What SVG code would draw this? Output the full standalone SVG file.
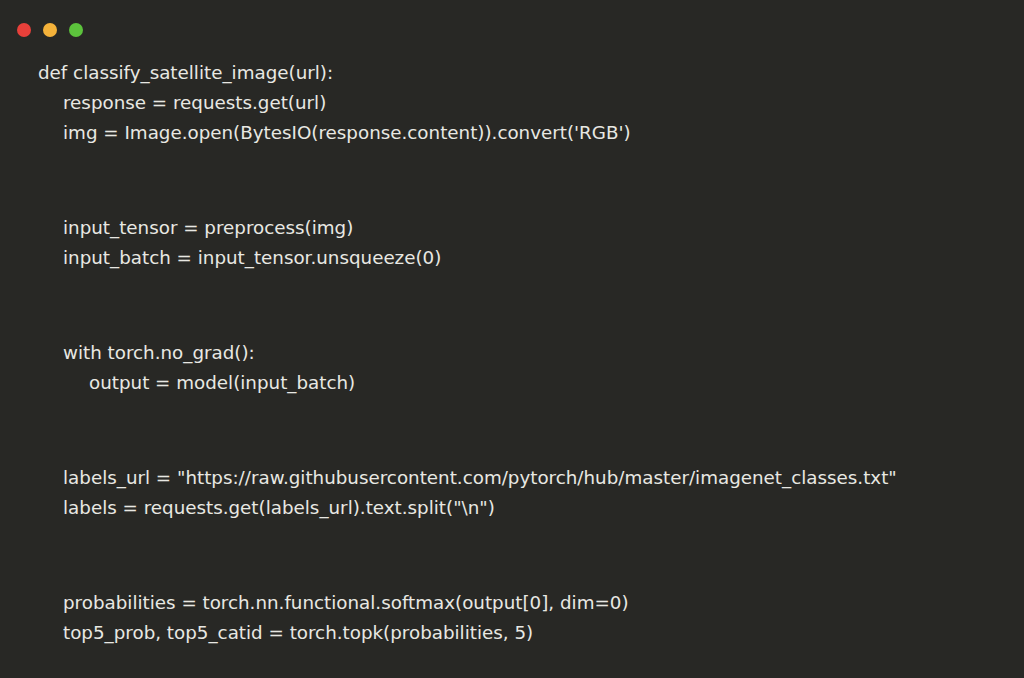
<svg xmlns="http://www.w3.org/2000/svg" width="1024" height="678" viewBox="0 0 1024 678">
<style>
.code{font-family:"DejaVu Sans","Liberation Sans",sans-serif;font-size:18.3px;fill:#e8e8e3;white-space:pre}
</style>
<rect width="1024" height="678" fill="#282825"/>
<g id="window-buttons">
<circle cx="24" cy="30" r="7" fill="#e8403a"/>
<circle cx="50" cy="30" r="7" fill="#f4b23a"/>
<circle cx="76" cy="30" r="7" fill="#5cc33c"/>
</g>
<g id="code">
<text class="code" x="38" y="79">def classify_satellite_image(url):</text>
<text class="code" x="63" y="109">response = requests.get(url)</text>
<text class="code" x="63" y="139">img = Image.open(BytesIO(response.content)).convert('RGB')</text>
<text class="code" x="63" y="234">input_tensor = preprocess(img)</text>
<text class="code" x="63" y="264">input_batch = input_tensor.unsqueeze(0)</text>
<text class="code" x="63" y="359">with torch.no_grad():</text>
<text class="code" x="89" y="389">output = model(input_batch)</text>
<text class="code" x="63" y="484">labels_url = "https://raw.githubusercontent.com/pytorch/hub/master/imagenet_classes.txt"</text>
<text class="code" x="63" y="514">labels = requests.get(labels_url).text.split("\n")</text>
<text class="code" x="63" y="609">probabilities = torch.nn.functional.softmax(output[0], dim=0)</text>
<text class="code" x="63" y="639">top5_prob, top5_catid = torch.topk(probabilities, 5)</text>
</g>
</svg>
